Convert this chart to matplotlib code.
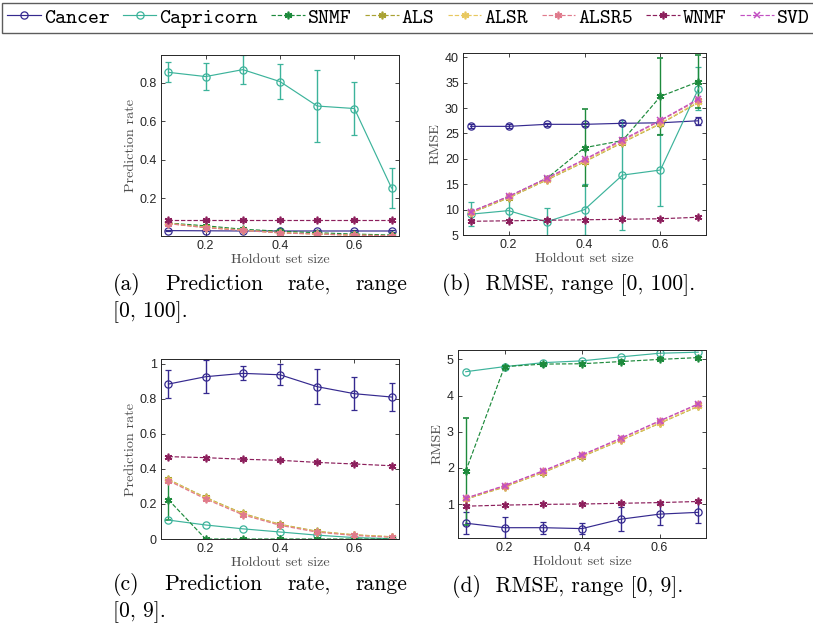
import matplotlib
matplotlib.use('Agg')
import matplotlib.pyplot as plt
from matplotlib.lines import Line2D

# ---------------- data ----------------
x = [0.1, 0.2, 0.3, 0.4, 0.5, 0.6, 0.7]
series_names = ['Cancer', 'Capricorn', 'SNMF', 'ALS', 'ALSR', 'ALSR5', 'WNMF', 'SVD']

# (a) Prediction rate, range [0, 100]
cancer_a = [0.033, 0.032, 0.031, 0.031, 0.031, 0.031, 0.031]
cancer_a_err = [0.003, 0.003, 0.003, 0.003, 0.003, 0.003, 0.003]
capricorn_a = [0.855, 0.833, 0.869, 0.807, 0.680, 0.667, 0.254]
capricorn_a_err = [0.052, 0.070, 0.074, 0.090, 0.185, 0.140, 0.106]
snmf_a = [0.072, 0.058, 0.040, 0.030, 0.022, 0.015, 0.010]
als_a = [0.071, 0.050, 0.036, 0.022, 0.016, 0.010, 0.007]
alsr_a = [0.070, 0.049, 0.035, 0.021, 0.015, 0.009, 0.006]
alsr5_a = [0.069, 0.048, 0.034, 0.021, 0.015, 0.009, 0.006]
wnmf_a = [0.088, 0.088, 0.088, 0.088, 0.088, 0.088, 0.088]

# (b) RMSE, range [0, 100]
cancer_b = [26.4, 26.4, 26.8, 26.8, 27.0, 27.1, 27.5]
cancer_b_err = [0.4, 0.4, 0.3, 0.3, 0.3, 0.3, 0.8]
capricorn_b = [9.1, 9.8, 7.6, 10.0, 16.8, 17.8, 33.8]
capricorn_b_err = [2.4, 2.3, 2.8, 5.0, 10.8, 7.0, 4.2]
snmf_b = [9.5, 12.5, 16.1, 22.2, 23.6, 32.3, 35.2]
snmf_b_err = [0.3, 0.3, 0.3, 7.6, 0.5, 7.6, 5.2]
als_b = [9.3, 12.3, 15.8, 19.4, 23.2, 26.9, 31.1]
alsr_b = [9.4, 12.4, 15.9, 19.5, 23.3, 27.0, 31.2]
alsr5_b = [9.5, 12.6, 16.1, 19.8, 23.6, 27.5, 31.6]
wnmf_b = [7.7, 7.8, 7.9, 8.0, 8.1, 8.2, 8.5]
svd_b = [9.6, 12.6, 16.2, 19.9, 23.8, 27.6, 31.8]

# (c) Prediction rate, range [0, 9]
cancer_c = [0.884, 0.926, 0.945, 0.937, 0.869, 0.829, 0.810]
cancer_c_err = [0.080, 0.095, 0.040, 0.060, 0.100, 0.095, 0.080]
capricorn_c = [0.108, 0.080, 0.058, 0.040, 0.022, 0.008, 0.002]
snmf_c = [0.224, 0.0, 0.0, 0.0, 0.0, 0.0, 0.0]
snmf_c_err = [0.115, 0.0, 0.0, 0.0, 0.0, 0.0, 0.0]
als_c = [0.340, 0.237, 0.146, 0.084, 0.044, 0.024, 0.013]
alsr_c = [0.338, 0.234, 0.143, 0.082, 0.042, 0.023, 0.012]
alsr5_c = [0.333, 0.228, 0.138, 0.078, 0.039, 0.020, 0.010]
wnmf_c = [0.470, 0.464, 0.455, 0.449, 0.437, 0.428, 0.418]

# (d) RMSE, range [0, 9]
cancer_d = [0.47, 0.345, 0.345, 0.32, 0.58, 0.72, 0.77]
cancer_d_err = [0.30, 0.29, 0.17, 0.15, 0.33, 0.31, 0.29]
capricorn_d = [4.66, 4.80, 4.91, 4.96, 5.07, 5.17, 5.20]
snmf_d = [1.91, 4.80, 4.87, 4.88, 4.94, 5.00, 5.05]
snmf_d_err = [1.48, 0.03, 0.03, 0.03, 0.03, 0.03, 0.03]
als_d = [1.13, 1.47, 1.87, 2.31, 2.76, 3.23, 3.70]
alsr_d = [1.14, 1.48, 1.88, 2.32, 2.77, 3.24, 3.71]
alsr5_d = [1.16, 1.50, 1.91, 2.35, 2.81, 3.29, 3.76]
wnmf_d = [0.94, 0.97, 0.99, 1.00, 1.02, 1.04, 1.07]
svd_d = [1.16, 1.51, 1.92, 2.36, 2.82, 3.30, 3.77]

# ---------------- styles ----------------
AST = (6, 2, 0)
styles = {
    'Cancer':    dict(color='#35298f', ls='-',  marker='o', mfc='none'),
    'Capricorn': dict(color='#3cb39b', ls='-',  marker='o', mfc='none'),
    'SNMF':      dict(color='#1d8a3c', ls='--', marker=AST, mfc=None),
    'ALS':       dict(color='#a9a233', ls='--', marker=AST, mfc=None),
    'ALSR':      dict(color='#e8c860', ls='--', marker=AST, mfc=None),
    'ALSR5':     dict(color='#e07a8c', ls='--', marker=AST, mfc=None),
    'WNMF':      dict(color='#8c1f5c', ls='--', marker=AST, mfc=None),
    'SVD':       dict(color='#c24fc2', ls='--', marker='x', mfc=None),
}


def mstyle(mk):
    if mk == 'o':
        return dict(ms=5.2, mew=0.9)
    if mk == 'x':
        return dict(ms=4.5, mew=1.1)
    return dict(ms=5.5, mew=1.2)


W, H = 813, 628
fig = plt.figure(figsize=(W / 100, H / 100), dpi=100)


def rect(l, t, r, b):
    return [l / W, 1 - b / H, (r - l) / W, (b - t) / H]


TICKFONT = 'Liberation Sans'
TXTCOL = '#262626'


def draw(ax, data, ylabel, ylim, yticks, yticklabels):
    for name, y, err in data:
        st = styles[name]
        mk = st['marker']
        kw = dict(color=st['color'], ls=st['ls'], marker=mk, lw=0.85,
                  elinewidth=1.0, capsize=2.3, capthick=1.0, **mstyle(mk))
        if st['mfc'] is not None:
            kw['mfc'] = st['mfc']
        if err is not None:
            ax.errorbar(x, y, yerr=err, **kw)
        else:
            ax.errorbar(x, y, **kw)
    ax.set_xlim(0.08, 0.72)
    ax.set_ylim(*ylim)
    ax.set_xticks([0.2, 0.4, 0.6])
    ax.set_xticklabels(['0.2', '0.4', '0.6'], family=TICKFONT)
    ax.set_yticks(yticks)
    ax.set_yticklabels(yticklabels, family=TICKFONT)
    ax.tick_params(direction='in', top=True, right=True, length=3, width=0.6,
                   labelsize=9, labelcolor=TXTCOL, pad=3, color=TXTCOL)
    for s in ax.spines.values():
        s.set_color(TXTCOL)
        s.set_linewidth(0.7)
    ax.set_xlabel('Holdout set size', family='cmr10', fontsize=10.2,
                  color='#4d4d4d', labelpad=1)
    ax.set_ylabel(ylabel, family='cmr10', fontsize=10.2, color='#4d4d4d',
                  labelpad=2)


axa = fig.add_axes(rect(161, 55, 399, 236))
draw(axa, [('Cancer', cancer_a, cancer_a_err), ('Capricorn', capricorn_a, capricorn_a_err),
           ('SNMF', snmf_a, None), ('ALS', als_a, None), ('ALSR', alsr_a, None),
           ('ALSR5', alsr5_a, None), ('WNMF', wnmf_a, None)],
     'Prediction rate', (0.005, 0.945), [0.2, 0.4, 0.6, 0.8], ['0.2', '0.4', '0.6', '0.8'])

axb = fig.add_axes(rect(463, 53, 706, 235))
draw(axb, [('Cancer', cancer_b, cancer_b_err), ('Capricorn', capricorn_b, capricorn_b_err),
           ('SNMF', snmf_b, snmf_b_err), ('ALS', als_b, None), ('ALSR', alsr_b, None),
           ('ALSR5', alsr5_b, None), ('WNMF', wnmf_b, None), ('SVD', svd_b, None)],
     'RMSE', (5, 40.85), [5, 10, 15, 20, 25, 30, 35, 40],
     ['5', '10', '15', '20', '25', '30', '35', '40'])

axc = fig.add_axes(rect(161, 359, 399, 539))
draw(axc, [('Cancer', cancer_c, cancer_c_err), ('Capricorn', capricorn_c, None),
           ('SNMF', snmf_c, snmf_c_err), ('ALS', als_c, None), ('ALSR', alsr_c, None),
           ('ALSR5', alsr5_c, None), ('WNMF', wnmf_c, None)],
     'Prediction rate', (0, 1.027), [0, 0.2, 0.4, 0.6, 0.8, 1.0],
     ['0', '0.2', '0.4', '0.6', '0.8', '1'])

axd = fig.add_axes(rect(458, 350, 706, 538))
draw(axd, [('Cancer', cancer_d, cancer_d_err), ('Capricorn', capricorn_d, None),
           ('SNMF', snmf_d, snmf_d_err), ('ALS', als_d, None), ('ALSR', alsr_d, None),
           ('ALSR5', alsr5_d, None), ('WNMF', wnmf_d, None), ('SVD', svd_d, None)],
     'RMSE', (0.06, 5.26), [1, 2, 3, 4, 5], ['1', '2', '3', '4', '5'])

# ---------------- legend ----------------
handles = []
for name in series_names:
    st = styles[name]
    mk = st['marker']
    kw = dict(color=st['color'], ls=st['ls'], marker=mk, lw=0.85, **mstyle(mk))
    if st['mfc'] is not None:
        kw['mfc'] = st['mfc']
    handles.append(Line2D([], [], **kw))
leg = fig.legend(handles, series_names, loc='upper left',
                 bbox_to_anchor=(2 / W, 1 - 3 / H), ncol=8, frameon=True,
                 fancybox=False, prop=dict(family='cmtt10', size=15),
                 handlelength=1.6, handletextpad=0.15, columnspacing=0.65,
                 borderpad=0.25, borderaxespad=0)
leg.get_frame().set_edgecolor('#333333')
leg.get_frame().set_linewidth(1.0)

# ---------------- captions ----------------
CAPSIZE = 15.6
renderer = fig.canvas.get_renderer()


def ptxt(px, py, s):
    return fig.text(px / W, 1 - py / H, s, family='cmr10', fontsize=CAPSIZE,
                    va='baseline', ha='left', color='black')


def justified(words, x0, x1, py):
    ts = [ptxt(x0, py, w) for w in words]
    widths = [t.get_window_extent(renderer).width for t in ts]
    gap = (x1 - x0 - sum(widths)) / (len(words) - 1)
    pos = x0
    for t, w in zip(ts, widths):
        t.set_x(pos / W)
        pos += w + gap


justified(['(a)', 'Prediction', 'rate,', 'range'], 113, 407, 290)
ptxt(113, 317, '[0, 100].')
ptxt(442, 290, '(b)  RMSE, range [0, 100].')
justified(['(c)', 'Prediction', 'rate,', 'range'], 113, 407, 590)
ptxt(113, 617, '[0, 9].')
ptxt(452, 592, '(d)  RMSE, range [0, 9].')

fig.savefig('out.png', dpi=100)
